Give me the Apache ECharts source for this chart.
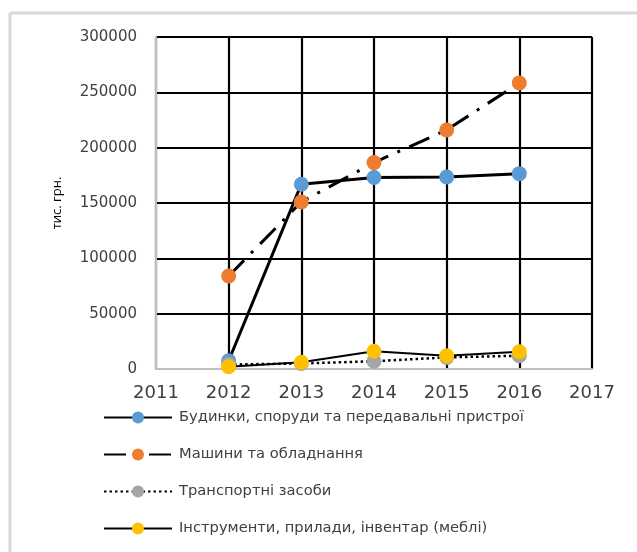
<!DOCTYPE html>
<html>
<head>
<meta charset="utf-8">
<script src="https://cdn.jsdelivr.net/npm/echarts@6/dist/echarts.min.js"></script>
<style>
  html, body { margin: 0; padding: 0; background: #fff; }
  #chart { width: 637px; height: 552px; }
</style>
</head>
<body>
<div id="chart"></div>
<script>
// Fixed assets by group, thousand UAH, 2012–2016
const years = [2012, 2013, 2014, 2015, 2016];
const buildings = [7500, 167000, 173000, 173500, 176500];
const machinery = [84000, 151000, 186500, 216000, 258500];
const transport = [4000, 5000, 7000, 10500, 12000];
const tools = [2000, 6000, 16000, 12000, 15500];

const seriesNames = [
  'Будинки, споруди та передавальні пристрої',
  'Машини та обладнання',
  'Транспортні засоби',
  'Інструменти, прилади, інвентар (меблі)'
];
const yTicks = { min: 0, max: 300000, step: 50000 };
const xTicks = { min: 2011, max: 2017, step: 1 };

const font = '"DejaVu Sans", sans-serif';
const textColor = '#404040';

function pairs(values) {
  return years.map((y, i) => [y, values[i]]);
}

function makeSeries(name, values, color, lineStyle) {
  return {
    name: name,
    type: 'line',
    data: pairs(values),
    symbol: 'circle',
    symbolSize: 15,
    itemStyle: { color: color },
    lineStyle: Object.assign({ color: '#000' }, lineStyle),
    emphasis: { disabled: true },
    animation: false
  };
}

const chart = echarts.init(document.getElementById('chart'), null, { renderer: 'canvas' });
chart.setOption({
  backgroundColor: '#fff',
  animation: false,
  graphic: [
    { type: 'line', shape: { x1: 10, y1: 13, x2: 637, y2: 13 }, style: { stroke: '#d9d9d9', lineWidth: 3 } },
    { type: 'line', shape: { x1: 10, y1: 13, x2: 10, y2: 552 }, style: { stroke: '#d9d9d9', lineWidth: 3 } }
  ],
  grid: { left: 156, right: 45, top: 37, bottom: 183, containLabel: false },
  xAxis: {
    type: 'value',
    min: xTicks.min,
    max: xTicks.max,
    interval: xTicks.step,
    axisLine: { show: true, lineStyle: { color: '#bfbfbf', width: 2 } },
    axisTick: { show: false },
    axisLabel: { fontSize: 18, color: textColor, fontFamily: font, margin: 15, formatter: v => String(v) },
    splitLine: { show: true, lineStyle: { color: '#000', width: 2.2 } }
  },
  yAxis: {
    type: 'value',
    min: yTicks.min,
    max: yTicks.max,
    interval: yTicks.step,
    name: 'тис. грн.',
    nameLocation: 'middle',
    nameRotate: 90,
    nameGap: 92,
    nameTextStyle: { fontSize: 13, color: '#000', fontFamily: '"Open Sans", sans-serif' },
    axisLine: { show: true, lineStyle: { color: '#bfbfbf', width: 2 } },
    axisTick: { show: false },
    axisLabel: { fontSize: 15, color: textColor, fontFamily: font, margin: 19, formatter: v => String(v) },
    splitLine: { show: true, lineStyle: { color: '#000', width: 2.2 } }
  },
  legend: {
    orient: 'vertical',
    left: 103,
    top: 410,
    padding: 0,
    itemWidth: 68,
    itemHeight: 15,
    itemGap: 22,
    textStyle: { fontSize: 14.7, color: textColor, fontFamily: font, padding: [0, 0, 0, 2] },
    data: seriesNames
  },
  series: [
    makeSeries(seriesNames[0], buildings, '#5B9BD5', { width: 3 }),
    makeSeries(seriesNames[1], machinery, '#ED7D31', { width: 3, type: [22, 10, 3, 10] }),
    makeSeries(seriesNames[2], transport, '#A5A5A5', { width: 2.5, type: [2.5, 3] }),
    makeSeries(seriesNames[3], tools, '#FFC000', { width: 2 })
  ]
});
</script>
</body>
</html>
